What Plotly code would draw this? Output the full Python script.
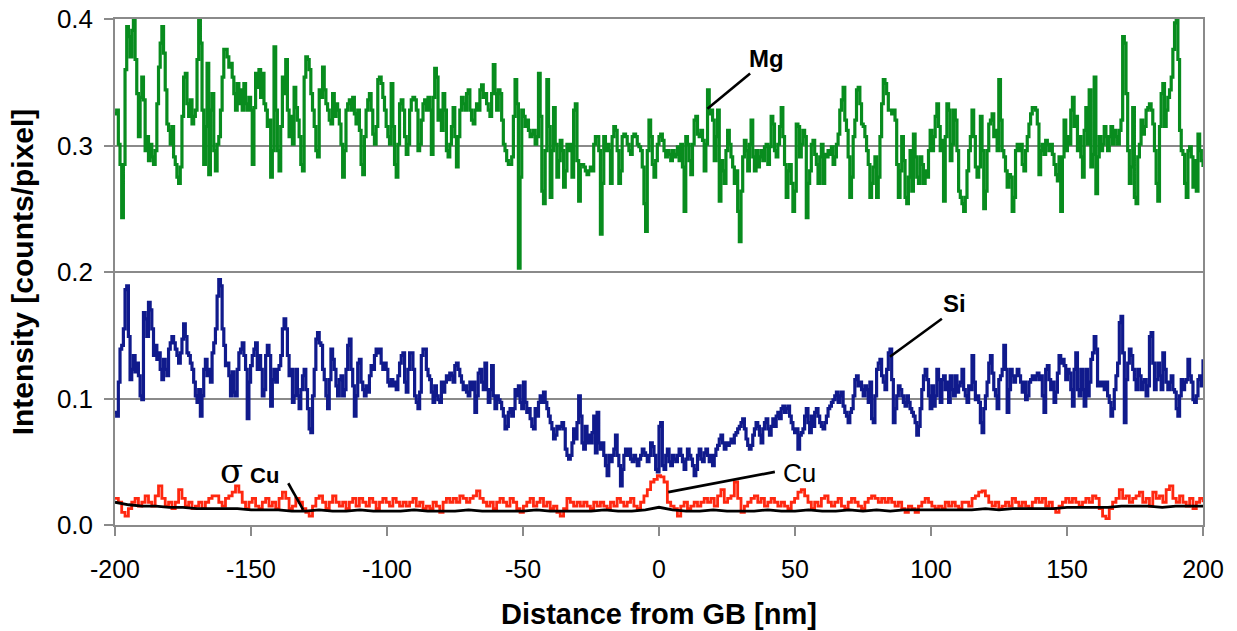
import numpy as np
import plotly.graph_objects as go

# ---------------- data ----------------
mg = [
 .325,.328,.301,.285,.243,.285,.360,.394,.386,.370,
 .391,.400,.368,.341,.307,.338,.354,.336,.296,.307,
 .288,.301,.291,.285,.296,.333,.362,.381,.394,.373,
 .344,.317,.312,.301,.315,.291,.285,.275,.270,.283,
 .323,.354,.357,.333,.323,.336,.317,.323,.328,.368,
 .400,.381,.328,.285,.315,.365,.277,.328,.341,.296,
 .280,.301,.307,.328,.354,.376,.376,.370,.362,.365,
 .354,.341,.328,.349,.333,.344,.328,.349,.333,.328,
 .338,.328,.285,.330,.357,.346,.360,.338,.357,.333,
 .328,.315,.320,.275,.296,.378,.328,.296,.280,.315,
 .354,.341,.368,.328,.307,.323,.301,.346,.330,.320,
 .307,.285,.280,.354,.370,.368,.360,.341,.328,.315,
 .296,.291,.344,.338,.362,.344,.333,.328,.320,.317,
 .341,.323,.333,.328,.317,.301,.275,.296,.328,.333,
 .336,.328,.338,.325,.317,.328,.312,.285,.277,.307,
 .328,.336,.341,.328,.309,.301,.315,.352,.354,.349,
 .338,.328,.315,.307,.301,.349,
 .315,.285,.275,.301,.333,.336,.328,.307,.293,.301,
 .328,.336,.338,.336,.328,.296,.301,.320,.333,.336,
 .328,.338,.328,.293,.338,.361,.354,.320,.328,.312,
 .341,.328,.296,.291,.301,.315,.330,.307,.283,.307,
 .328,.338,.333,.328,.341,.344,.328,.320,.317,.328,
 .333,.328,.344,.348,.338,.341,.333,.328,.323,.341,
 .364,.341,.328,.344,.341,.320,.301,.296,.288,.285,
 .285,.291,.323,.352,.333,.203,.275,.328,.323,.315,
 .320,.312,.307,.309,.312,.301,.307,.357,.323,.264,
 .254,.296,.352,.315,.259,.296,.330,.301,.275,.288,
 .304,.296,.267,.280,.301,.296,.301,.275,.328,.333,
 .288,.256,.285,.285,.283,.280,.277,.280,.283,.280,
 .301,.307,.307,.296,.230,.270,.307,.296,.301,.296,
 .270,.307,.315,.312,.296,.270,.280,.307,.309,.307,
 .301,.296,.293,.307,.309,.307,.301,.299,.296,.283,
 .254,.232,.296,.320,.307,.285,.275,.288,.301,.307,
 .309,
 .304,.296,.291,.296,.293,.288,.296,.291,.293,.299,
 .288,.301,.283,.248,.307,.301,.288,.277,.301,.320,
 .323,.309,.307,.312,.304,.280,.301,.344,.325,.328,
 .320,.288,.307,.328,.256,.288,.280,.270,.296,.312,
 .301,.291,.283,.270,.280,.248,.224,.264,.291,.304,
 .296,.280,.301,.320,.291,.280,.296,.283,.291,.296,
 .288,.299,.301,.285,.299,.323,.317,.296,.291,.301,
 .315,.330,.307,.285,.259,.280,.285,.270,.248,.264,
 .317,.315,.291,.301,.312,.307,.243,.270,.280,.301,
 .304,.293,.285,.270,.291,.301,.270,.293,.291,.296,
 .293,.299,.285,.291,.301,.309,.328,.336,.346,.320,
 .312,.291,.259,.275,.307,.320,.344,.346,.333,.317,
 .315,.307,.296,.285,.259,.270,.283,.291,.259,.275,
 .307,.333,.352,.349,.341,.328,.328,.325,.328,.320,
 .285,.259,.280,.307,.288,.259,.254,.275,.296,.264,
 .309,.291,.275,.270,.291,.285,.270,.280,.275,.296,
 .312,.296,
 .307,.323,.333,.315,.296,.304,.256,.307,.333,.328,
 .288,.301,.328,.320,.296,.264,.259,.254,.248,.259,
 .280,.296,.307,.328,.307,.283,.275,.283,.323,.296,
 .250,.264,.296,.317,.320,.325,.307,.312,.296,.352,
 .320,.296,.291,.280,.267,.277,.275,.248,.259,.296,
 .301,.296,.301,.285,.280,.296,.307,.317,.325,.330,
 .330,.328,.317,.277,.296,.301,.293,.304,.301,.296,
 .301,.293,.285,.277,.272,.291,.248,.291,.320,.296,
 .307,.301,.328,.338,.315,.323,.296,.307,.291,.275,
 .312,.330,.301,.344,.283,.293,.354,.262,.291,.307,
 .296,.301,.315,.307,.296,.307,.315,.301,.312,.307,
 .301,.312,.320,.386,.381,.341,.296,.270,.283,.330,
 .259,.254,.291,.301,.320,.309,.315,.328,.330,.333,
 .328,.317,.296,.270,.256,.315,.341,.349,.315,.328,
 .338,.344,.354,.376,.397,.399,.368,.312,.296,.293,
 .270,.259,.296,.299,.291,.267,.288,.264,.309,.296,
 .288,.283,
]

si = [
 .089,.086,.113,.139,.142,.155,.186,.189,.149,.115,
 .123,.134,.121,.128,.118,.102,.099,.168,.163,.149,
 .176,.170,.155,.134,.142,.131,.136,.123,.115,.131,
 .123,.118,.139,.144,.149,.144,.139,.134,.128,.136,
 .147,.159,.149,.136,.134,.128,.123,.113,.102,.097,
 .107,.086,.102,.123,.131,.118,.123,.113,.136,.144,
 .155,.181,.194,.189,.155,.142,.126,.128,.118,.102,
 .121,.105,.102,.123,.136,.139,.144,.134,.123,.084,
 .113,.126,.134,.139,.144,.123,.134,.123,.102,.107,
 .134,.142,.134,.094,.115,.123,.113,.123,.126,.134,
 .155,.163,.155,.134,.118,.123,.097,.102,.123,.102,
 .092,.107,.118,.123,.107,.092,.076,.073,.102,.123,
 .147,.152,.144,.142,.123,.115,.102,.092,.115,.139,
 .131,.123,.110,.102,.115,.118,.102,.107,.123,.142,
 .147,.123,.110,.086,.102,.128,.131,.113,.107,.102,
 .110,.105,.118,.126,.123,.134,.139,.136,.139,.128,
 .123,.128,.123,.113,.110,.115,
 .110,.113,.107,.118,.128,.134,.136,.113,.105,.123,
 .136,.136,.123,.102,.097,.092,.105,.134,.139,.139,
 .123,.118,.115,.105,.097,.110,.102,.099,.097,.113,
 .105,.113,.118,.115,.120,.118,.113,.126,.128,.123,
 .118,.113,.107,.110,.105,.102,.113,.107,.113,.089,
 .102,.120,.123,.113,.107,.128,.107,.097,.107,.126,
 .102,.092,.102,.099,.097,.092,.086,.076,.078,.089,
 .092,.086,.092,.107,.102,.110,.097,.092,.113,.097,
 .089,.092,.084,.078,.076,.092,.086,.097,.102,.097,
 .105,.097,.092,.086,.081,.076,.068,.071,.078,.076,
 .078,.081,.076,.060,.055,.052,.055,.065,.076,.068,
 .081,.102,.086,.065,.060,.078,.065,.071,.065,.073,
 .086,.057,.089,.065,.060,.065,.055,.047,.039,.055,
 .050,.055,.060,.071,.055,.047,.031,.044,.055,.060,
 .055,.060,.052,.050,.055,.052,.047,.052,.055,.060,
 .057,.055,.050,.055,.065,.062,.055,.044,.042,.078,
 .081,
 .047,.044,.055,.060,.050,.047,.055,.052,.050,.055,
 .060,.055,.050,.044,.052,.060,.055,.052,.047,.039,
 .044,.055,.060,.052,.050,.057,.060,.055,.050,.055,
 .047,.055,.060,.063,.068,.071,.065,.060,.065,.063,
 .065,.068,.065,.071,.073,.076,.078,.081,.084,.076,
 .068,.063,.060,.063,.071,.076,.081,.078,.071,.065,
 .076,.081,.084,.076,.071,.078,.084,.078,.086,.089,
 .084,.092,.094,.089,.092,.094,.086,.081,.076,.073,
 .076,.060,.071,.073,.076,.086,.092,.081,.073,.086,
 .078,.089,.092,.086,.081,.078,.076,.081,.086,.092,
 .094,.097,.099,.102,.105,.097,.102,.105,.094,.089,
 .086,.081,.089,.092,.102,.115,.118,.110,.113,.107,
 .102,.110,.107,.097,.113,.084,.081,.102,.123,.128,
 .131,.118,.113,.107,.123,.136,.139,.115,.081,.092,
 .102,.110,.107,.102,.097,.094,.102,.097,.092,.089,
 .086,.081,.071,.078,.092,.107,.118,.123,.115,.102,
 .092,.110,
 .094,.102,.123,.115,.097,.115,.118,.107,.113,.097,
 .118,.107,.102,.118,.105,.110,.113,.123,.107,.102,
 .097,.110,.107,.134,.113,.099,.102,.097,.081,.073,
 .092,.102,.113,.128,.134,.120,.107,.102,.092,.115,
 .118,.123,.142,.123,.089,.107,.123,.118,.113,.118,
 .123,.118,.113,.105,.113,.099,.102,.113,.115,.118,
 .115,.118,.120,.115,.118,.102,.089,.123,.126,.115,
 .107,.113,.097,.105,.120,.134,.128,.131,.126,.115,
 .123,.120,.107,.094,.123,.136,.107,.102,.123,.107,
 .094,.123,.102,.113,.131,.136,.149,.139,.110,.113,
 .110,.113,.107,.113,.102,.097,.086,.092,.107,.118,
 .128,.160,.165,.136,.081,.115,.128,.139,.134,.123,
 .115,.107,.123,.118,.107,.113,.115,.102,.110,.149,
 .152,.128,.107,.115,.128,.118,.107,.136,.123,.113,
 .107,.113,.118,.107,.105,.092,.086,.102,.115,.107,
 .113,.115,.131,.118,.113,.099,.097,.102,.115,.118,
 .110,.131,
]

cu = [
 .021,.018,.010,.007,.013,.018,.021,.015,.018,.023,
 .018,.015,.023,.031,.021,.015,.018,.013,.018,.028,
 .021,.015,.018,.013,.015,.018,.013,.018,.021,.023,
 .023,.018,.015,.021,.023,.026,.031,.026,.018,.013,
 .018,.021,.015,.013,.018,.021,.015,.018,.013,.021,
 .026,.021,.013,.015,.021,.018,.013,.010,.007,.015,
 .021,.023,.018,.013,.018,.023,.018,.015,.018,.013,
 .018,.021,.015,.021,.018,.015,.021,.018,.013,.018,
 .021,.018,.015,
 .021,.018,.015,.018,.015,.018,.021,.015,.018,.013,
 .015,.013,.018,.015,.010,.018,.021,.018,.021,.018,
 .023,.021,.018,.021,.023,.027,.021,.018,.015,.018,
 .013,.018,.021,.018,.015,.021,.018,.013,.010,.015,
 .018,.021,.015,.018,.021,.015,.018,.013,.015,.010,
 .007,.013,.021,.018,.015,.018,.015,.018,.015,.013,
 .018,.015,.018,.015,.013,.018,.015,.021,.018,.015,
 .018,.021,.015,.013,.018,.023,.028,.034,.036,.039,
 .038,
 .034,.018,.015,.013,.007,.015,.018,.013,.015,.018,
 .015,.018,.021,.018,.021,.015,.023,.028,.018,.021,
 .023,.034,.021,.010,.015,.018,.021,.023,.018,.021,
 .015,.018,.021,.018,.015,.018,.015,.013,.018,.021,
 .026,.028,.023,.018,.013,.018,.015,.021,.023,.018,
 .015,.018,.021,.015,.013,.018,.021,.018,.015,.013,
 .018,.021,.023,.021,.018,.021,.018,.021,.018,.015,
 .018,.013,.010,.015,.013,.010,.015,.018,.021,.018,
 .015,
 .013,.015,.013,.018,.015,.018,.015,.013,.018,.018,
 .015,.021,.023,.026,.027,.023,.018,.015,.018,.013,
 .015,.018,.015,.021,.018,.015,.018,.015,.013,.018,
 .021,.018,.021,.015,.018,.013,.010,.015,.018,.021,
 .018,.021,.018,.015,.018,.021,.018,.023,.021,.013,
 .007,.005,.013,.018,.021,.028,.021,.023,.018,.021,
 .023,.026,.018,.021,.015,.026,.021,.023,.018,.028,
 .031,.021,.018,.023,.018,.015,.021,.013,.018,.021,
 .018,
]

sigma_cu = [
 .018,.016,.015,.015,.014,.014,.013,.013,.013,.013,
 .012,.012,.012,.011,.011,.012,.011,.011,.012,.011,
 .011,.011,.012,.011,.011,.011,.012,.011,.011,.011,
 .011,.012,.011,.011,.011,.011,.012,.011,.011,.012,
 .014,.012,.011,.011,.012,.011,.011,.011,.012,.011,
 .011,.012,.011,.011,.012,.011,.012,.011,.012,.012,
 .012,.012,.012,.012,.013,.012,.013,.013,.013,.013,
 .014,.014,.014,.014,.015,.015,.015,.014,.015,.015,
 .015,
]

x_ticks = [-200, -150, -100, -50, 0, 50, 100, 150, 200]
y_ticks = [0.0, 0.1, 0.2, 0.3, 0.4]

X_MIN, X_MAX = -200, 200

def grid(vals):
    return np.linspace(X_MIN, X_MAX, len(vals))

GREEN = "rgb(8,140,30)"
BLUE = "rgb(16,26,140)"
RED = "rgb(255,40,16)"
GRAY = "#8a8a8a"
FONT = "Liberation Sans, Arial, sans-serif"

fig = go.Figure()
fig.add_trace(go.Scatter(x=grid(mg), y=mg, mode="lines", line=dict(color=GREEN, width=3.2, shape="hv"), name="Mg"))
fig.add_trace(go.Scatter(x=grid(si), y=si, mode="lines", line=dict(color=BLUE, width=3.2, shape="hv"), name="Si"))
fig.add_trace(go.Scatter(x=grid(cu), y=cu, mode="lines", line=dict(color=RED, width=2.8, shape="hv"), name="Cu"))
fig.add_trace(go.Scatter(x=grid(sigma_cu), y=sigma_cu, mode="lines", line=dict(color="black", width=2.8), name="σ Cu"))

annos = [
    dict(x=39.6, y=0.369, text="<b>Mg</b>", font=dict(family=FONT, size=24, color="black")),
    dict(x=108.8, y=0.175, text="<b>Si</b>", font=dict(family=FONT, size=24, color="black")),
    dict(x=51.5, y=0.041, text="Cu", font=dict(family=FONT, size=26, color="black")),
    dict(x=-157.0, y=0.0425, text="σ", font=dict(family="DejaVu Serif, serif", size=34, color="black")),
    dict(x=-145.0, y=0.0395, text="<b>Cu</b>", font=dict(family=FONT, size=22, color="black")),
]
for a in annos:
    fig.add_annotation(xref="x", yref="y", showarrow=False, **a)

leaders = [
    (33.5, 0.357, 17.8, 0.329),
    (104.0, 0.163, 84.9, 0.133),
    (42.6, 0.042, 3.4, 0.026),
    (-136.3, 0.033, -130.8, 0.012),
]
for x0, y0, x1, y1 in leaders:
    fig.add_shape(type="line", xref="x", yref="y", x0=x0, y0=y0, x1=x1, y1=y1,
                  line=dict(color="black", width=2.6))

fig.update_layout(
    width=1237, height=631,
    margin=dict(l=115, r=34, t=19, b=106),
    paper_bgcolor="white", plot_bgcolor="white",
    showlegend=False,
    font=dict(family=FONT, size=22, color="black"),
)
fig.update_xaxes(
    range=[X_MIN, X_MAX], tickvals=x_ticks, ticktext=[str(v) for v in x_ticks],
    showgrid=False, zeroline=False,
    showline=True, linecolor=GRAY, linewidth=1.5, mirror=True,
    ticks="outside", ticklen=9, tickcolor=GRAY, tickwidth=1.5,
    ticklabelstandoff=12,
    tickfont=dict(family=FONT, size=25),
    title=dict(text="<b>Distance from GB [nm]</b>", font=dict(family=FONT, size=29), standoff=22),
    automargin=False,
)
fig.update_yaxes(
    range=[0, 0.4], tickvals=y_ticks, ticktext=["%.1f" % v for v in y_ticks],
    showgrid=True, gridcolor=GRAY, gridwidth=1.5, zeroline=False,
    showline=True, linecolor=GRAY, linewidth=1.5, mirror=True,
    ticks="outside", ticklen=9, tickcolor=GRAY, tickwidth=1.5,
    ticklabelstandoff=6,
    tickfont=dict(family=FONT, size=26),
    title=dict(text="<b>Intensity [counts/pixel]</b>", font=dict(family=FONT, size=30), standoff=14),
    automargin=False,
)

fig.write_html("out.html")
